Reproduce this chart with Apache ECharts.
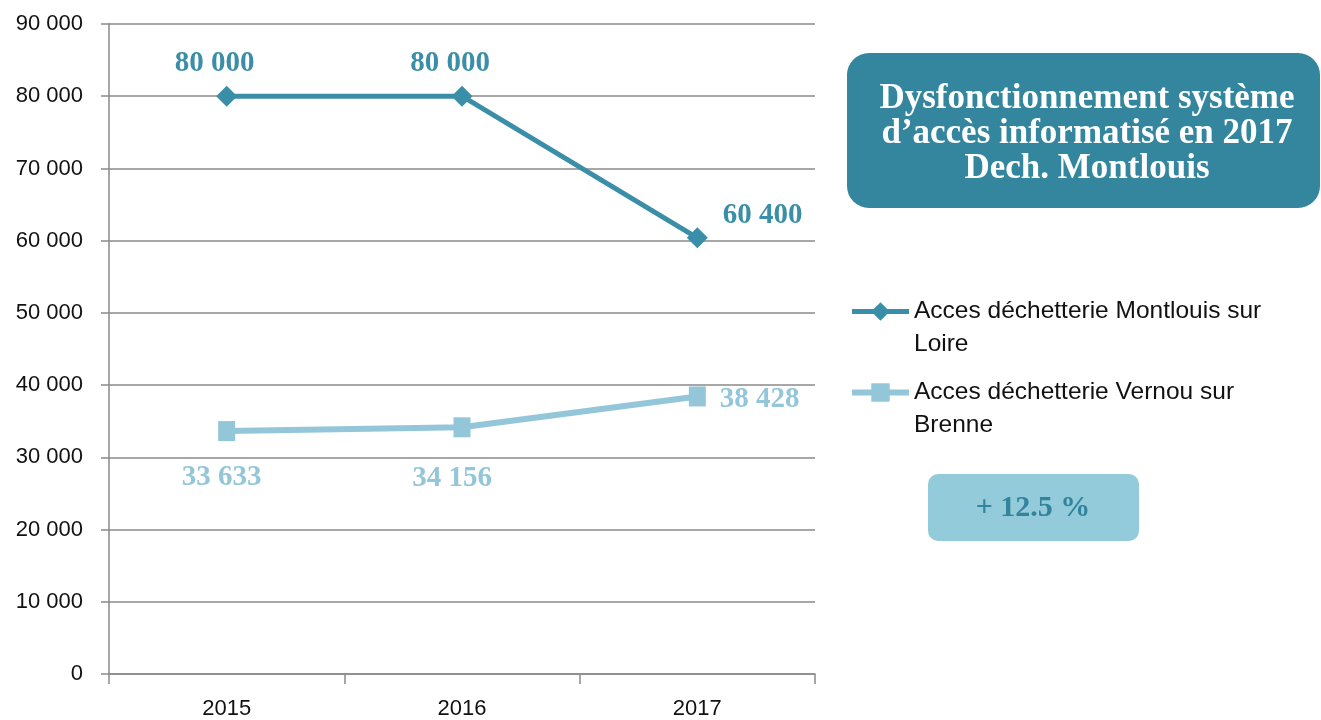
<!DOCTYPE html>
<html>
<head>
<meta charset="utf-8">
<script src="https://cdn.jsdelivr.net/npm/echarts@6/dist/echarts.min.js"></script>
<style>
html,body{margin:0;padding:0;background:#fff;}
#chart{width:1321px;height:720px;}
</style>
</head>
<body>
<div id="chart"></div>
<script>
const categories = ['2015', '2016', '2017'];
const montlouisName = 'Acces déchetterie Montlouis sur Loire';
const vernouName = 'Acces déchetterie Vernou sur Brenne';
const montlouisValues = [80000, 80000, 60400];
const vernouValues = [33633, 34156, 38428];
const yTicks = [0, 10000, 20000, 30000, 40000, 50000, 60000, 70000, 80000, 90000];
const titleText = 'Dysfonctionnement système\nd’accès informatisé en 2017\nDech. Montlouis';
const growthText = '+ 12.5 %';

const DARK = '#3a8ea7';
const LIGHT = '#93c6d8';
const fmt = v => String(v).replace(/\B(?=(\d{3})+(?!\d))/g, ' ');
const serif = "'Liberation Serif', 'Times New Roman', serif";
const sans = "'Liberation Sans', Arial, sans-serif";

const darkLabels = [
  {position: 'top', distance: 8, offset: [-12, 0]},
  {position: 'top', distance: 8, offset: [-12, 0]},
  {position: 'right', distance: 15, offset: [0, -22]}
];
const lightLabels = [
  {position: 'bottom', distance: 22, offset: [-5, 0]},
  {position: 'bottom', distance: 27, offset: [-10, 0]},
  {position: 'right', distance: 14, offset: [0, 3]}
];

const chart = echarts.init(document.getElementById('chart'), null, {renderer: 'canvas'});
chart.setOption({
  animation: false,
  backgroundColor: '#ffffff',
  grid: {left: 109, right: 506, top: 24, bottom: 46, containLabel: false},
  xAxis: {
    type: 'category',
    data: categories,
    boundaryGap: true,
    axisLine: {show: true, lineStyle: {color: '#8a8a8a', width: 1.5}},
    axisTick: {show: true, length: 10, alignWithLabel: false, lineStyle: {color: '#8a8a8a', width: 1.5}},
    axisLabel: {margin: 24, fontSize: 22, fontFamily: sans, color: '#111'}
  },
  yAxis: {
    type: 'value',
    min: yTicks[0],
    max: yTicks[yTicks.length - 1],
    interval: yTicks[1] - yTicks[0],
    axisLine: {show: true, lineStyle: {color: '#8a8a8a', width: 1.5}},
    axisTick: {show: true, length: 8, lineStyle: {color: '#8a8a8a', width: 1.5}},
    splitLine: {show: true, lineStyle: {color: '#8a8a8a', width: 1.5}},
    axisLabel: {margin: 26, fontSize: 22, fontFamily: sans, color: '#111', formatter: v => fmt(v)}
  },
  legend: {
    orient: 'vertical',
    left: 849,
    top: 262,
    padding: 0,
    itemGap: -18,
    itemWidth: 57,
    itemHeight: 23,
    lineStyle: {width: 'inherit'},
    data: [montlouisName, vernouName],
    formatter: name => name === montlouisName
      ? '\u00a0\nAcces déchetterie Montlouis sur\nLoire'
      : '\u00a0\nAcces déchetterie Vernou sur\nBrenne',
    textStyle: {fontSize: 24.5, fontFamily: sans, color: '#111', lineHeight: 33}
  },
  series: [
    {
      name: montlouisName,
      type: 'line',
      data: montlouisValues.map((v, i) => ({value: v, label: darkLabels[i]})),
      symbol: 'diamond',
      symbolSize: 21,
      lineStyle: {color: DARK, width: 5},
      itemStyle: {color: DARK},
      label: {show: true, formatter: p => fmt(p.value), fontFamily: serif, fontWeight: 'bold', fontSize: 29, color: DARK}
    },
    {
      name: vernouName,
      type: 'line',
      data: vernouValues.map((v, i) => ({value: v, label: lightLabels[i]})),
      symbol: 'rect',
      symbolSize: [17, 20],
      lineStyle: {color: LIGHT, width: 6},
      itemStyle: {color: LIGHT},
      label: {show: true, formatter: p => fmt(p.value), fontFamily: serif, fontWeight: 'bold', fontSize: 29, color: LIGHT}
    }
  ],
  graphic: [
    {
      type: 'group',
      left: 847, top: 53,
      children: [
        {type: 'rect', shape: {x: 0, y: 0, width: 473, height: 155, r: 22}, style: {fill: '#33869d'}},
        {type: 'text', x: 240, y: 81, style: {text: titleText, fill: '#ffffff', font: "bold 35px 'Liberation Serif', serif", align: 'center', verticalAlign: 'middle', lineHeight: 35}}
      ]
    },
    {
      type: 'group',
      left: 928, top: 474,
      children: [
        {type: 'rect', shape: {x: 0, y: 0, width: 211, height: 67, r: 10}, style: {fill: '#93cbdb'}},
        {type: 'text', x: 105, y: 34, style: {text: growthText, fill: '#31849b', font: "bold 30px 'Liberation Serif', serif", align: 'center', verticalAlign: 'middle'}}
      ]
    }
  ]
});
</script>
</body>
</html>
